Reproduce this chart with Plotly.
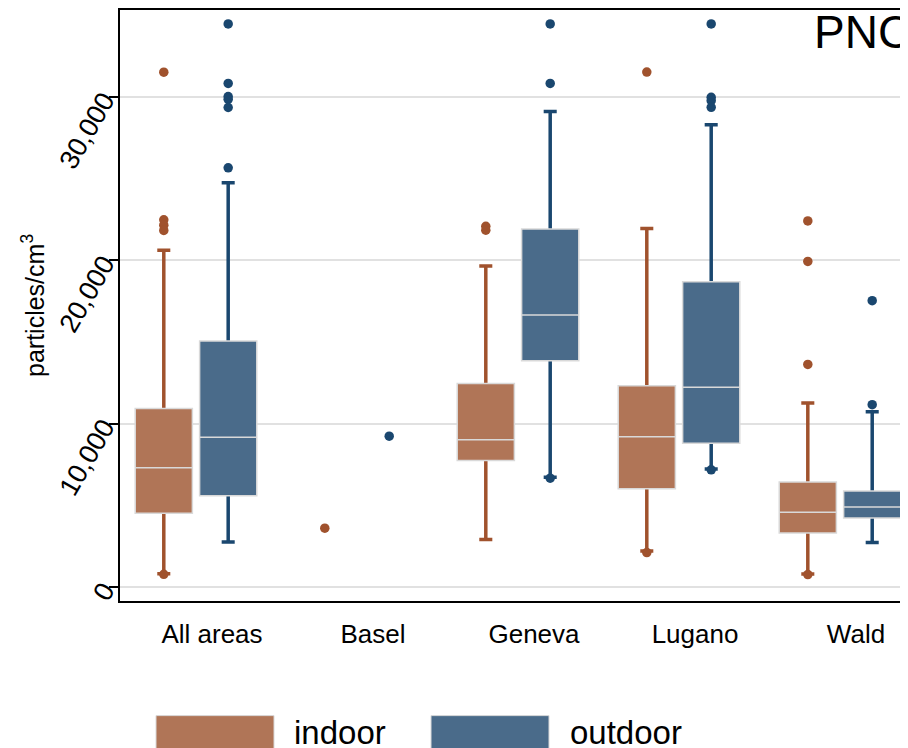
import plotly.graph_objects as go

# ---------------- data ----------------
categories = ["All areas", "Basel", "Geneva", "Lugano", "Wald"]

indoor_q1 = [4510, None, 7740, 6020, 3310]
indoor_median = [7300, None, 9010, 9190, 4570]
indoor_q3 = [10920, None, 12460, 12320, 6420]
indoor_lower = [820, None, 2910, 2200, 800]
indoor_upper = [20610, None, 19640, 21940, 11260]
indoor_outliers = [
    [31500, 22470, 22140, 21820, 780],
    [3600],
    [22075, 21830],
    [31510, 2110],
    [22400, 19920, 13620, 760],
]

outdoor_q1 = [5590, None, 13840, 8800, 4230]
outdoor_median = [9160, None, 16650, 12220, 4900]
outdoor_q3 = [15060, None, 21910, 18680, 5870]
outdoor_lower = [2750, None, 6720, 7220, 2720]
outdoor_upper = [24730, None, 29090, 28280, 10730]
outdoor_outliers = [
    [34450, 30810, 30010, 29840, 29340, 25650],
    [9230],
    [34450, 30810, 6660],
    [34450, 29960, 29760, 29350, 7170],
    [17520, 11160],
]

y_ticks = [0, 10000, 20000, 30000]

# ---------------- style ----------------
FONT = "Liberation Sans, Arial, sans-serif"
series = [
    dict(name="indoor", offset=-0.2, fill="#B07557", dark="#A0522D",
         q1=indoor_q1, med=indoor_median, q3=indoor_q3,
         lo=indoor_lower, hi=indoor_upper, out=indoor_outliers),
    dict(name="outdoor", offset=0.2, fill="#4A6B8A", dark="#1A476F",
         q1=outdoor_q1, med=outdoor_median, q3=outdoor_q3,
         lo=outdoor_lower, hi=outdoor_upper, out=outdoor_outliers),
]
BOX_W = 0.355
WHISK_W = 0.30
OUTLINE = "#D9D9D9"

# page has an 8px body margin; plot area in page pixels
PAGE_OFF = 8
W, H = 908, 748
L, R, T, B = 120, 916, 8, 601
def px_x(p):
    return (p - L) / (R - L)
def px_y(p):
    return (B - p) / (B - T)

fig = go.Figure()

for s in series:
    idx = [i for i in range(len(categories)) if s["q1"][i] is not None]
    xs = [i + s["offset"] for i in idx]
    # whisker layer (dark); its degenerate box sits at the median, hidden under the real box
    fig.add_trace(go.Box(
        x=xs,
        q1=[s["med"][i] for i in idx],
        median=[s["med"][i] for i in idx],
        q3=[s["med"][i] for i in idx],
        lowerfence=[s["lo"][i] for i in idx],
        upperfence=[s["hi"][i] for i in idx],
        width=WHISK_W,
        whiskerwidth=0.27,
        line=dict(color=s["dark"], width=3.5),
        fillcolor=s["fill"],
        hoverinfo="skip",
        showlegend=False,
    ))
    # box layer
    fig.add_trace(go.Box(
        x=xs,
        q1=[s["q1"][i] for i in idx],
        median=[s["med"][i] for i in idx],
        q3=[s["q3"][i] for i in idx],
        lowerfence=[s["q1"][i] for i in idx],
        upperfence=[s["q3"][i] for i in idx],
        width=BOX_W,
        whiskerwidth=0,
        line=dict(color=OUTLINE, width=1.5),
        fillcolor=s["fill"],
        name=s["name"],
        showlegend=False,
    ))

for s in series:
    ox, oy = [], []
    for i, vals in enumerate(s["out"]):
        for v in vals:
            ox.append(i + s["offset"])
            oy.append(v)
    fig.add_trace(go.Scatter(
        x=ox, y=oy, mode="markers",
        marker=dict(color=s["dark"], size=9.5, line=dict(width=0)),
        showlegend=False, hoverinfo="y",
    ))

annotations = [
    dict(text="particles/cm<sup>3</sup>", xref="paper", yref="paper",
         x=px_x(33), y=px_y(305), textangle=-90, showarrow=False,
         xanchor="center", yanchor="middle",
         font=dict(family=FONT, size=25, color="black")),
    dict(text="PNC", xref="paper", yref="paper", x=px_x(812), y=px_y(2),
         xanchor="left", yanchor="top", showarrow=False,
         font=dict(family=FONT, size=46, color="black")),
]
shapes = []
legend_pos = [(156, 274, 292), (431, 549, 568)]
for s, (x0, x1, tx) in zip(series, legend_pos):
    shapes.append(dict(type="rect", xref="paper", yref="paper",
                       x0=px_x(x0), x1=px_x(x1), y0=px_y(716), y1=px_y(775),
                       fillcolor=s["fill"], line=dict(color=OUTLINE, width=1)))
    annotations.append(dict(text=s["name"], xref="paper", yref="paper",
                            x=px_x(tx), y=px_y(712), xanchor="left", yanchor="top",
                            showarrow=False,
                            font=dict(family=FONT, size=33, color="black")))

fig.update_layout(
    width=W, height=H,
    margin=dict(l=L - PAGE_OFF, r=W - (R - PAGE_OFF), t=T - PAGE_OFF,
                b=H - (B - PAGE_OFF), pad=0),
    paper_bgcolor="white", plot_bgcolor="white",
    showlegend=False,
    font=dict(family=FONT, color="black"),
    annotations=annotations,
    shapes=shapes,
)
fig.update_xaxes(
    range=[-0.472, 4.472],
    tickvals=list(range(len(categories))), ticktext=categories,
    ticks="", showgrid=False, zeroline=False,
    showline=True, mirror=True, linecolor="black", linewidth=1.5,
    tickfont=dict(family=FONT, size=26, color="black"),
    ticklabelshift=16, ticklabelstandoff=9,
)
fig.update_yaxes(
    range=[-854, 35305],
    tickvals=y_ticks, tickformat=",",
    ticks="outside", ticklen=9, tickwidth=1.5, tickcolor="black",
    tickangle=-60,
    showgrid=True, gridcolor="#E1E1E1", gridwidth=2, zeroline=False,
    showline=True, linecolor="black", linewidth=1.5,
    tickfont=dict(family=FONT, size=27, color="black"),
)

fig.write_html("out.html")
